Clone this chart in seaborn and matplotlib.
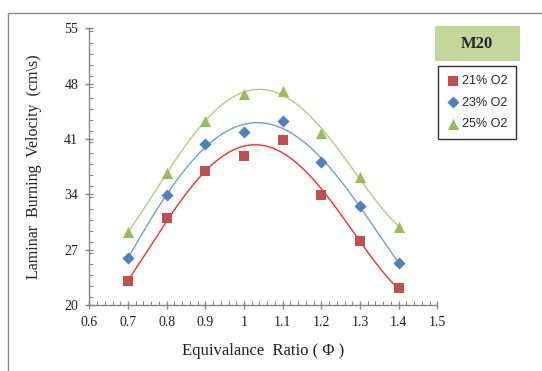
import numpy as np
import pandas as pd
import matplotlib
matplotlib.use('Agg')
import matplotlib.pyplot as plt
import seaborn as sns
from matplotlib.patches import Rectangle
from matplotlib.ticker import FixedLocator, MultipleLocator

# -----------------------------
#    dados
# -----------------------------
phi = [0.7, 0.8, 0.9, 1.0, 1.1, 1.2, 1.3, 1.4]
v21 = [23.0, 31.0, 36.9, 38.9, 40.9, 33.9, 28.1, 22.1]
v23 = [25.9, 33.9, 40.4, 41.9, 43.3, 38.1, 32.5, 25.3]
v25 = [29.2, 36.7, 43.3, 46.7, 47.1, 41.8, 36.2, 29.9]
series = ['21% O2', '23% O2', '25% O2']
title_txt = 'M20'
xticks = [0.6, 0.7, 0.8, 0.9, 1.0, 1.1, 1.2, 1.3, 1.4, 1.5]
xtick_labels = ['0.6', '0.7', '0.8', '0.9', '1', '1.1', '1.2', '1.3', '1.4', '1.5']
yticks = [20, 27, 34, 41, 48, 55]

df = pd.DataFrame({
    'phi': phi * 3,
    'v': v21 + v23 + v25,
    'serie': [s for s in series for _ in phi],
})

# linha de tendencia polinomial (como no excel)
xs = np.linspace(0.7, 1.4, 200)
trend = []
for s, vals in zip(series, [v21, v23, v25]):
    c = np.polyfit(phi, vals, 4)
    trend.append(pd.DataFrame({'phi': xs, 'v': np.polyval(c, xs), 'serie': s}))
df_trend = pd.concat(trend, ignore_index=True)

sns.set_style('white')

mk_colors = {'21% O2': '#c0504d', '23% O2': '#4f81bd', '25% O2': '#9bbb59'}
ln_colors = {'21% O2': '#ff2a2a', '23% O2': '#6f9fd8', '25% O2': '#b3cc82'}
markers = {'21% O2': 's', '23% O2': 'D', '25% O2': '^'}
sizes = {'21% O2': 50, '23% O2': 38, '25% O2': 65}

fig = plt.figure(figsize=(5.42, 3.71), dpi=100)
ax = fig.add_axes([89.3/542, 1-305/371, (437.3-89.3)/542, (305-28.3)/371])

sns.lineplot(data=df_trend, x='phi', y='v', hue='serie', palette=ln_colors,
             lw=1, legend=False, ax=ax)
for s in series:
    sub = df[df.serie == s]
    sns.scatterplot(data=sub, x='phi', y='v', color=mk_colors[s], marker=markers[s],
                    s=sizes[s], linewidth=0, label=s, ax=ax, zorder=3)

ax.set_xlim(0.6, 1.5)
ax.set_ylim(20, 55)
ax.xaxis.set_major_locator(FixedLocator(xticks))
ax.xaxis.set_minor_locator(MultipleLocator(0.02))
ax.yaxis.set_major_locator(FixedLocator(yticks))
ax.yaxis.set_minor_locator(MultipleLocator(1.4))
ax.set_xticklabels(xtick_labels)

grey = '#868686'
for sp in ['top', 'right']:
    ax.spines[sp].set_visible(False)
for sp in ['left', 'bottom']:
    ax.spines[sp].set_color(grey)
    ax.spines[sp].set_linewidth(1)

ax.tick_params(which='both', bottom=True, left=True)
ax.tick_params(which='major', direction='inout', length=6, width=1, color=grey,
               labelsize=10, pad=5)
ax.tick_params(which='minor', direction='in', length=3, width=0.8, color=grey)
for lab in ax.get_xticklabels() + ax.get_yticklabels():
    lab.set_family('Liberation Serif')
    lab.set_color('#222222')

ax.set_xlabel('Equivalance  Ratio ( Φ )', family='Liberation Serif', fontsize=12,
              labelpad=10, color='#222222')
ax.set_ylabel('Laminar  Burning  Velocity  (cm\\s)', family='Liberation Serif',
              fontsize=11.5, labelpad=16, color='#222222')

# legenda
h, l = ax.get_legend_handles_labels()
leg = ax.legend(h, l, loc='upper left', bbox_to_anchor=(438/542, 1-66.4/371),
                bbox_transform=fig.transFigure, frameon=True, fancybox=False,
                prop={'family': 'Liberation Sans', 'size': 9},
                handletextpad=0.2, handlelength=1.0, labelspacing=0.75,
                borderpad=0.7, borderaxespad=0)
leg.get_frame().set_edgecolor('black')
leg.get_frame().set_linewidth(1)

# caixa do titulo
fig.patches.append(Rectangle((434.7/542, 1-61.4/371), (520-434.7)/542, 35.5/371,
                             transform=fig.transFigure, facecolor='#c4d79b',
                             edgecolor='none'))
fig.text((434.7+520)/2/542, 1-43.6/371, title_txt, ha='center', va='center',
         family='Liberation Serif', fontweight='bold', fontsize=12)

# borda externa
fig.patches.append(Rectangle((8.3/542, -0.1), 1.0, 1.1-12.7/371,
                             transform=fig.transFigure, fill=False,
                             edgecolor='#8c8c8c', lw=1))

fig.savefig('out.png', dpi=100)
